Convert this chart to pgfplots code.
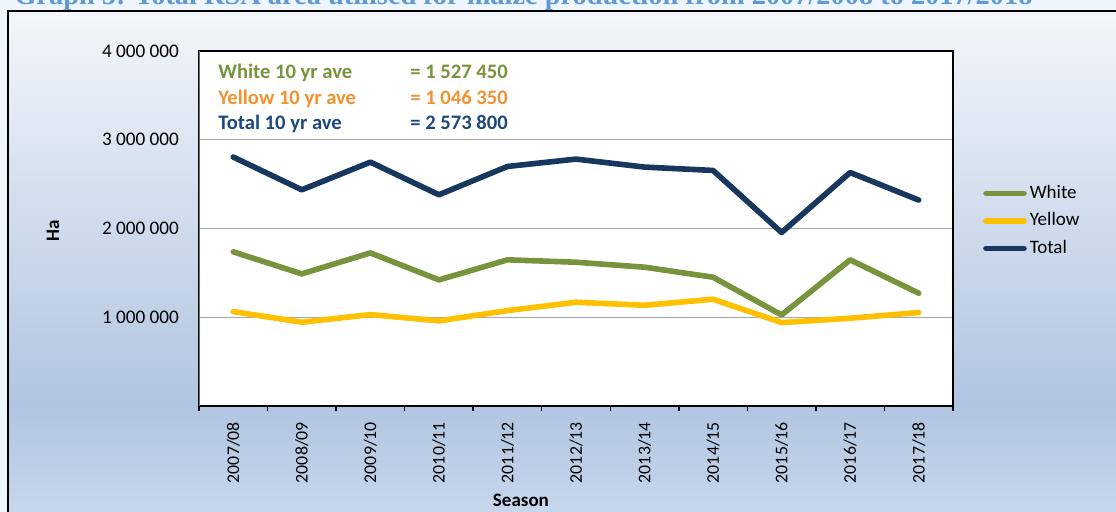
\documentclass[border=0pt]{standalone}
\usepackage{graphicx}
\usepackage{pgfplots}
\pgfplotsset{compat=1.18}
\usepackage{pgfplotstable}
\usepackage{fontspec}
\setmainfont{Carlito}
\newfontfamily\titlefont{Liberation Serif}

\definecolor{cwhite}{HTML}{77933C}
\definecolor{cyellow}{HTML}{FFC000}
\definecolor{ctotal}{HTML}{17375E}
\definecolor{torange}{HTML}{F39130}
\definecolor{tnavy}{HTML}{1F497D}
\definecolor{pagebg}{HTML}{EFF5FC}
\definecolor{bgtop}{HTML}{F3F6FA}
\definecolor{bgmid}{HTML}{B0C5E0}
\definecolor{bgbot}{HTML}{C7D7EC}
\definecolor{titleblue}{HTML}{5F9AD2}
\definecolor{gridgray}{HTML}{A6A6A6}

\pgfplotstableread{
idx white yellow total
0 1737000 1064000 2805000
1 1489000 944000 2436000
2 1725000 1030000 2748000
3 1421000 959000 2380000
4 1647000 1075000 2699000
5 1620000 1169000 2782000
6 1564000 1135000 2692000
7 1451000 1203000 2654000
8 1026000 940000 1955000
9 1647000 989000 2631000
10 1271000 1053000 2320000
}\data

\begin{document}
\begin{tikzpicture}
\path[use as bounding box] (0,0) rectangle (558pt,-256pt);
\begin{scope}
\clip (0,0) rectangle (558pt,-256pt);
\fill[pagebg] (0,0) rectangle (558pt,-256pt);
\shade[top color=bgtop, bottom color=bgmid] (4pt,-5.75pt) rectangle (562pt,-203pt);
\shade[top color=bgmid, bottom color=bgbot] (4pt,-202.9pt) rectangle (562pt,-257pt);
\draw[black, line width=1pt] (4pt,-262pt) -- (4pt,-5.75pt) -- (562pt,-5.75pt);
\node[anchor=base west, inner sep=0pt, text=titleblue] at (7pt,-2.25pt)
  {\resizebox{509pt}{!}{\titlefont\bfseries Graph 5: Total RSA area utilised for maize production from 2007/2008 to 2017/2018}};
\end{scope}

\begin{axis}[
  at={(99.5pt,-203pt)}, anchor=south west,
  scale only axis, width=377pt, height=177.5pt,
  xmin=-0.5, xmax=10.5, ymin=0, ymax=4000000,
  axis background/.style={fill=white},
  xtick={0,...,10},
  xticklabels={2007/08,2008/09,2009/10,2010/11,2011/12,2012/13,2013/14,2014/15,2015/16,2016/17,2017/18},
  minor xtick={-0.5,0.5,...,10.5},
  ytick={1000000,2000000,3000000,4000000},
  yticklabels={1 000 000,2 000 000,3 000 000,4 000 000},
  scaled y ticks=false,
  ymajorgrids, grid style={color=gridgray, line width=0.6pt},
  tick align=outside,
  xtick pos=lower, ytick pos=left,
  major tick length=0pt,
  minor tick length=2.5pt,
  major tick style={draw=none},
  minor tick style={black, line width=0.75pt},
  axis line style={black, line width=0.75pt},
  yticklabel style={font=\fontsize{9.6}{11}\selectfont, text=black},
  yticklabel shift=6.5pt,
  xticklabel style={font=\fontsize{8.9}{10}\selectfont, text=black, rotate=90, anchor=east},
  xticklabel shift=4.5pt,
  xlabel={Season},
  xlabel style={font=\bfseries\fontsize{9.5}{11}\selectfont, at={(axis description cs:0.427,-0.265)}, anchor=center},
  ylabel={Ha},
  ylabel style={font=\bfseries\fontsize{9.5}{11}\selectfont, at={(axis description cs:-0.1936,0.493)}, anchor=center},
  legend style={at={(axis description cs:1.0395,0.628)}, anchor=north west, draw=none, fill=none,
    inner sep=0pt, row sep=3.75pt, column sep=1pt,
    nodes={inner sep=0.5pt, text height=7pt, text depth=2pt, font=\fontsize{9.5}{11}\selectfont, text=black}},
  legend cell align=left,
  legend image code/.code={\draw[#1, line cap=round] (1.5pt,0pt) -- (20.5pt,0pt);},
]
\addplot[cwhite, line width=2.8pt, line join=round, line cap=round] table[x=idx,y=white]{\data};
\addlegendentry{White}
\addplot[cyellow, line width=2.8pt, line join=round, line cap=round] table[x=idx,y=yellow]{\data};
\addlegendentry{Yellow}
\addplot[ctotal, line width=2.8pt, line join=round, line cap=round] table[x=idx,y=total]{\data};
\addlegendentry{Total}
\draw[gray!85!black, line width=1pt] (rel axis cs:0,0) -- (rel axis cs:0,1);
\end{axis}

\begin{scope}[font=\bfseries\fontsize{10.3}{12}\selectfont]
\node[anchor=base west, inner sep=0pt, text=cwhite] at (109pt,-39.5pt) {White 10 yr ave};
\node[anchor=base west, inner sep=0pt, text=cwhite] at (205pt,-39.5pt) {= 1 527 450};
\node[anchor=base west, inner sep=0pt, text=torange] at (109pt,-52.25pt) {Yellow 10 yr ave};
\node[anchor=base west, inner sep=0pt, text=torange] at (205pt,-52.25pt) {= 1 046 350};
\node[anchor=base west, inner sep=0pt, text=tnavy] at (109pt,-65pt) {Total 10 yr ave};
\node[anchor=base west, inner sep=0pt, text=tnavy] at (205pt,-65pt) {= 2 573 800};
\end{scope}
\end{tikzpicture}
\end{document}
